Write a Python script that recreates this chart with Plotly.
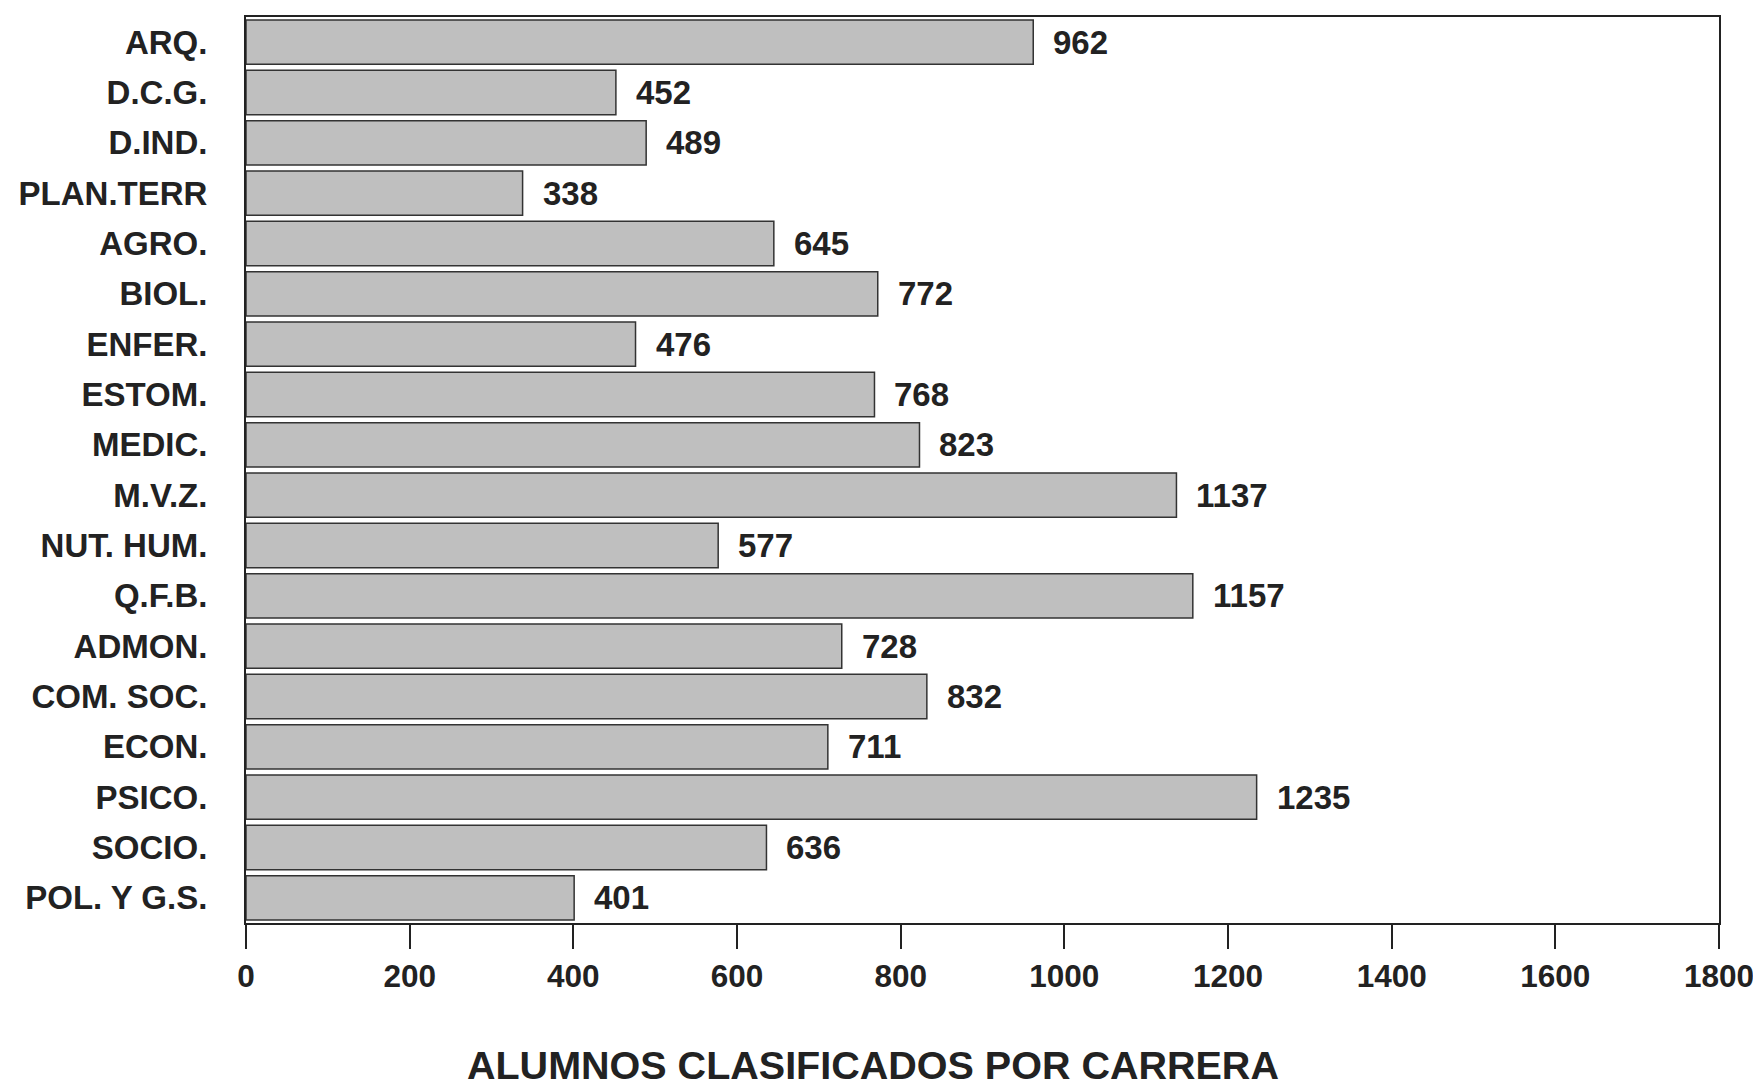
import plotly.graph_objects as go

# carreras y alumnos clasificados
careers = [
    "ARQ.", "D.C.G.", "D.IND.", "PLAN.TERR", "AGRO.", "BIOL.", "ENFER.",
    "ESTOM.", "MEDIC.", "M.V.Z.", "NUT. HUM.", "Q.F.B.", "ADMON.",
    "COM. SOC.", "ECON.", "PSICO.", "SOCIO.", "POL. Y G.S.",
]
students = [962, 452, 489, 338, 645, 772, 476, 768, 823, 1137, 577, 1157,
            728, 832, 711, 1235, 636, 401]
x_ticks = [0, 200, 400, 600, 800, 1000, 1200, 1400, 1600, 1800]

FONT = "Liberation Sans, Arial, sans-serif"
INK = "#222222"

fig = go.Figure()
fig.add_trace(go.Bar(
    x=students,
    y=careers,
    orientation="h",
    marker=dict(color="#BFBFBF", line=dict(color="#333333", width=1.5)),
    hoverinfo="x+y",
))

# value labels to the right of each bar
for name, val in zip(careers, students):
    fig.add_annotation(
        x=val, y=name, text=f"<b>{val}</b>",
        xanchor="left", xshift=18, showarrow=False,
        font=dict(family=FONT, size=33, color=INK),
    )

# page body adds ~8px margin, so the figure is a bit smaller than the window
fig.update_layout(
    width=1753,
    height=1078,
    plot_bgcolor="white",
    paper_bgcolor="white",
    bargap=0.12,
    showlegend=False,
    margin=dict(l=238, r=37, t=7, b=163),
    font=dict(family=FONT, size=32, color=INK),
    title=dict(
        text="<b>ALUMNOS CLASIFICADOS POR CARRERA</b>",
        font=dict(family=FONT, size=39.5, color=INK),
        x=0.4934, xref="container", xanchor="center",
        y=0.0195, yref="container", yanchor="middle",
    ),
)

fig.update_xaxes(
    range=[0, 1800],
    tickvals=x_ticks,
    ticktext=[f"<b>{t}</b>" for t in x_ticks],
    tickfont=dict(size=31.5),
    ticks="outside",
    ticklen=24,
    tickwidth=2,
    tickcolor=INK,
    ticklabelstandoff=0,
    showline=True,
    linecolor=INK,
    linewidth=2,
    mirror=True,
    showgrid=False,
    zeroline=False,
)

fig.update_yaxes(
    autorange="reversed",
    tickvals=careers,
    ticktext=[f"<b>{c}</b>" for c in careers],
    tickfont=dict(size=33),
    ticks="",
    ticklabelstandoff=30,
    showline=True,
    linecolor=INK,
    linewidth=2,
    mirror=True,
    showgrid=False,
)

fig.write_html("out.html")
